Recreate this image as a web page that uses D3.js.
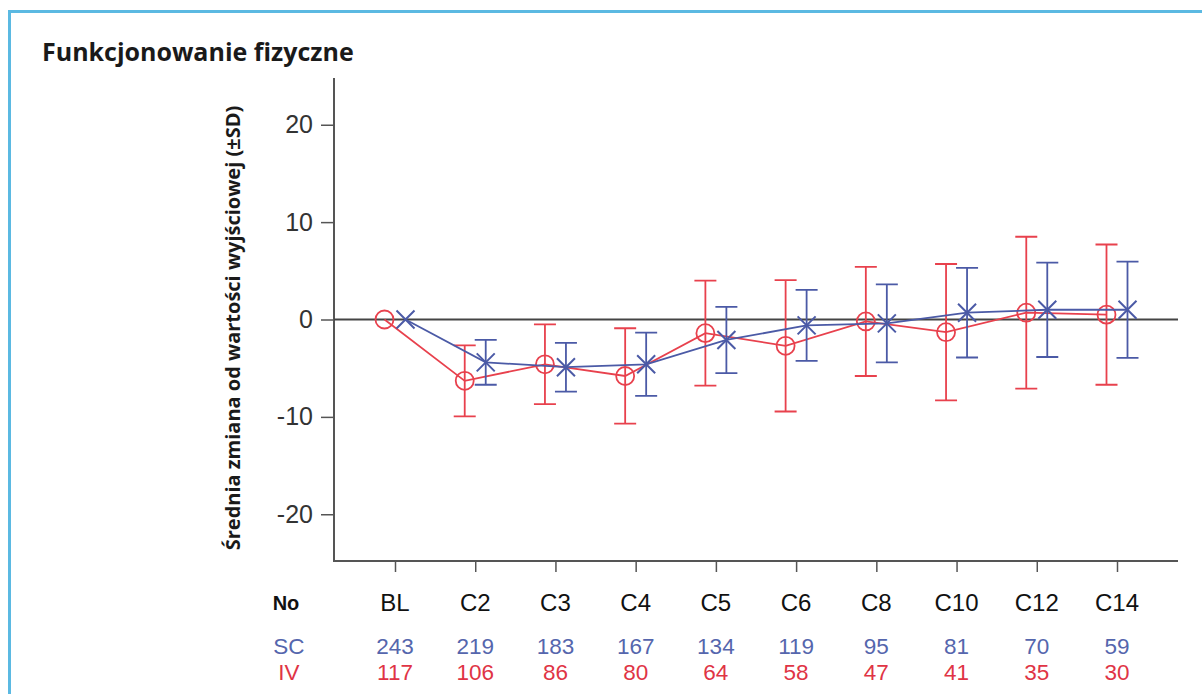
<!DOCTYPE html>
<html>
<head>
<meta charset="utf-8">
<script src="https://cdn.jsdelivr.net/npm/d3@7"></script>
<style>
  body { margin: 0; background: #fff; }
  svg { display: block; }
</style>
</head>
<body>
<svg id="chart" width="1202" height="694"></svg>
<script>
// visits on the x axis
const visits = ["BL", "C2", "C3", "C4", "C5", "C6", "C8", "C10", "C12", "C14"];

// IV arm (red circles): mean change and SD
const ivMean = [0, -6.3, -4.6, -5.8, -1.4, -2.7, -0.2, -1.3, 0.7, 0.5];
const ivSd   = [0, 3.65, 4.1, 4.9, 5.4, 6.75, 5.6, 7.0, 7.8, 7.2];
const ivN    = [117, 106, 86, 80, 64, 58, 47, 41, 35, 30];

// SC arm (blue crosses): mean change and SD
const scMean = [0, -4.4, -4.9, -4.6, -2.1, -0.6, -0.4, 0.7, 1.0, 1.0];
const scSd   = [0, 2.3, 2.5, 3.25, 3.4, 3.65, 4.0, 4.6, 4.85, 4.95];
const scN    = [243, 219, 183, 167, 134, 119, 95, 81, 70, 59];

const yTicks = [-20, -10, 0, 10, 20];

const red = "#e8414d";
const blue = "#4b5aa6";
const redText = "#e03445";
const blueText = "#5566ad";

const svg = d3.select("#chart");

// light blue frame around the slide
svg.append("path")
  .attr("d", "M9.5,700 V11.5 H1210")
  .attr("fill", "none")
  .attr("stroke", "#5bb9e2")
  .attr("stroke-width", 3);

svg.append("text")
  .attr("x", 42).attr("y", 61)
  .attr("font-family", "'Open Sans', sans-serif")
  .attr("font-weight", "bold")
  .attr("font-size", 25)
  .attr("fill", "#1a1a1a")
  .text("Funkcjonowanie fizyczne");

const plotL = 334, plotR = 1178, plotT = 78, plotB = 561;

const x = d3.scalePoint().domain(visits).range([395, 1117]);
const y = d3.scaleLinear().domain([-24.8, 24.8]).range([plotB, plotT]);

const axisColor = "#555";
const font = "'Liberation Sans', Arial, sans-serif";

// y axis
const yAxis = svg.append("g")
  .attr("transform", `translate(${plotL},0)`)
  .call(d3.axisLeft(y).tickValues(yTicks).tickSize(13).tickPadding(8).tickFormat(d => String(d)));
yAxis.select(".domain").remove();
yAxis.selectAll(".tick line").attr("stroke", axisColor).attr("stroke-width", 1.5);
yAxis.selectAll(".tick text")
  .attr("font-family", font)
  .attr("font-size", 25)
  .attr("fill", "#333");

// x axis ticks
const xAxis = svg.append("g")
  .attr("transform", `translate(0,${plotB})`)
  .call(d3.axisBottom(x).tickSize(11).tickFormat(""));
xAxis.select(".domain").remove();
xAxis.selectAll(".tick line").attr("stroke", axisColor).attr("stroke-width", 1.5);

// L-shaped frame
svg.append("path")
  .attr("d", `M${plotL},${plotT} V${plotB} H${plotR}`)
  .attr("fill", "none")
  .attr("stroke", axisColor)
  .attr("stroke-width", 2);

// zero reference line
svg.append("line")
  .attr("x1", plotL).attr("x2", plotR)
  .attr("y1", y(0)).attr("y2", y(0))
  .attr("stroke", "#444")
  .attr("stroke-width", 2);

svg.append("text")
  .attr("transform", "translate(240,328) rotate(-90)")
  .attr("text-anchor", "middle")
  .attr("font-family", "'Open Sans', sans-serif")
  .attr("font-weight", "bold")
  .attr("font-size", 20)
  .attr("fill", "#1a1a1a")
  .text("Średnia zmiana od wartości wyjściowej (±SD)");

const dodge = 10.5;
const cap = 11;

function drawSeries(mean, sd, color, offset, marker) {
  const data = visits.map((v, i) => ({ v: v, m: mean[i], s: sd[i] }));
  const g = svg.append("g");
  const px = d => x(d.v) + offset;

  g.selectAll(".err").data(data.filter(d => d.s > 0)).join("path")
    .attr("d", d => {
      const x0 = px(d), y1 = y(d.m + d.s), y2 = y(d.m - d.s);
      return `M${x0},${y1} V${y2} M${x0 - cap},${y1} H${x0 + cap} M${x0 - cap},${y2} H${x0 + cap}`;
    })
    .attr("fill", "none")
    .attr("stroke", color)
    .attr("stroke-width", 1.8);

  g.append("path")
    .datum(data)
    .attr("d", d3.line().x(px).y(d => y(d.m)))
    .attr("fill", "none")
    .attr("stroke", color)
    .attr("stroke-width", 1.8);

  if (marker === "circle") {
    g.selectAll(".mk").data(data).join("circle")
      .attr("cx", px).attr("cy", d => y(d.m)).attr("r", 9)
      .attr("fill", "none")
      .attr("stroke", color)
      .attr("stroke-width", 1.8);
  } else {
    const s = 9;
    g.selectAll(".mk").data(data).join("path")
      .attr("d", d => {
        const cx = px(d), cy = y(d.m);
        return `M${cx - s},${cy - s} L${cx + s},${cy + s} M${cx - s},${cy + s} L${cx + s},${cy - s}`;
      })
      .attr("fill", "none")
      .attr("stroke", color)
      .attr("stroke-width", 2);
  }
}

drawSeries(ivMean, ivSd, red, -dodge, "circle");
drawSeries(scMean, scSd, blue, dodge, "cross");

// table under the axis
svg.append("text")
  .attr("x", 286).attr("y", 610)
  .attr("text-anchor", "middle")
  .attr("font-family", font).attr("font-weight", "bold").attr("font-size", 20)
  .attr("fill", "#111").text("No");
svg.selectAll(".vlab").data(visits).join("text")
  .attr("x", d => x(d)).attr("y", 611)
  .attr("text-anchor", "middle")
  .attr("font-family", font).attr("font-size", 24)
  .attr("fill", "#111").text(d => d);

const rows = [
  { name: "SC", n: scN, color: blueText, yPos: 654 },
  { name: "IV", n: ivN, color: redText, yPos: 680 }
];
rows.forEach(r => {
  svg.append("text")
    .attr("x", 289).attr("y", r.yPos)
    .attr("text-anchor", "middle")
    .attr("font-family", font).attr("font-size", 22.5)
    .attr("fill", r.color).text(r.name);
  svg.selectAll(null).data(r.n).join("text")
    .attr("x", (d, i) => x(visits[i])).attr("y", r.yPos)
    .attr("text-anchor", "middle")
    .attr("font-family", font).attr("font-size", 22.5)
    .attr("fill", r.color).text(d => d);
});
</script>
</body>
</html>
